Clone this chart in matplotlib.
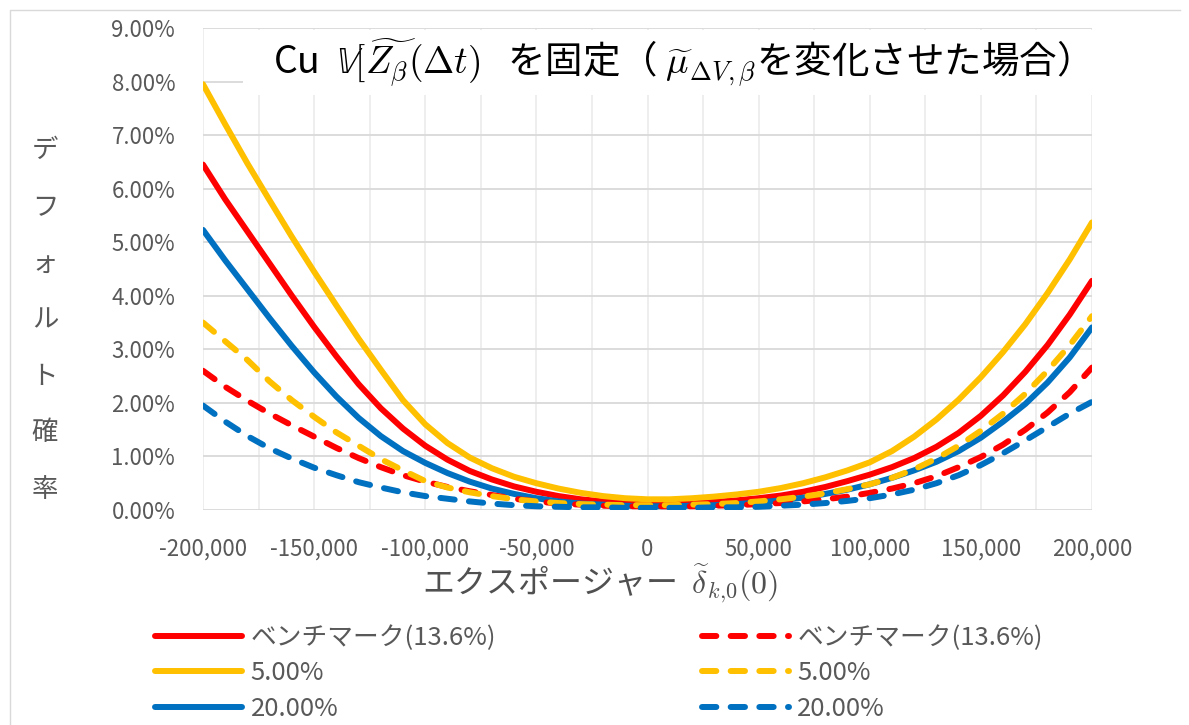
import matplotlib
matplotlib.use("Agg")
import matplotlib.pyplot as plt
from matplotlib.ticker import FuncFormatter, MultipleLocator
from matplotlib.patches import Rectangle
from matplotlib.lines import Line2D

plt.rcParams['font.family'] = ['Noto Sans CJK JP', 'DejaVu Sans']
plt.rcParams['mathtext.fontset'] = 'cm'

# exposure (x) and default probability in percent
exposure = list(range(-200000, 200001, 10000))

bench_solid = [6.45, 5.8, 5.2, 4.6, 4.0, 3.42, 2.87, 2.35, 1.9, 1.52, 1.2, 0.94, 0.73, 0.57,
               0.44, 0.34, 0.26, 0.2, 0.16, 0.14, 0.12,
               0.12, 0.13, 0.15, 0.18, 0.22, 0.27, 0.34, 0.43, 0.54, 0.66, 0.8, 0.97, 1.18,
               1.44, 1.76, 2.14, 2.58, 3.08, 3.65, 4.28]
p5_solid = [7.95, 7.2, 6.47, 5.78, 5.1, 4.45, 3.82, 3.2, 2.62, 2.05, 1.6, 1.25, 0.98, 0.78,
            0.62, 0.5, 0.4, 0.32, 0.26, 0.22, 0.2,
            0.2, 0.22, 0.25, 0.29, 0.34, 0.41, 0.5, 0.61, 0.74, 0.89, 1.1, 1.37, 1.69,
            2.06, 2.48, 2.95, 3.47, 4.05, 4.68, 5.37]
p20_solid = [5.23, 4.66, 4.12, 3.58, 3.06, 2.57, 2.12, 1.72, 1.38, 1.1, 0.88, 0.69, 0.53, 0.4,
             0.3, 0.22, 0.16, 0.12, 0.1, 0.08, 0.07,
             0.07, 0.08, 0.09, 0.11, 0.14, 0.18, 0.23, 0.3, 0.38, 0.48, 0.6, 0.74, 0.9,
             1.1, 1.35, 1.65, 1.98, 2.38, 2.85, 3.41]
bench_dash = [2.6, 2.3, 2.04, 1.8, 1.58, 1.37, 1.16, 0.97, 0.8, 0.65, 0.53, 0.43, 0.35, 0.28,
              0.21, 0.16, 0.12, 0.1, 0.08, 0.07, 0.07,
              0.07, 0.07, 0.08, 0.09, 0.11, 0.13, 0.16, 0.2, 0.25, 0.32, 0.4, 0.5, 0.63,
              0.8, 0.99, 1.22, 1.5, 1.82, 2.2, 2.66]
p5_dash = [3.5, 3.15, 2.8, 2.4, 2.05, 1.74, 1.45, 1.2, 0.95, 0.74, 0.54, 0.42, 0.33, 0.26,
           0.2, 0.16, 0.13, 0.11, 0.1, 0.09, 0.09,
           0.09, 0.1, 0.11, 0.13, 0.16, 0.2, 0.25, 0.31, 0.39, 0.48, 0.6, 0.76, 0.96, 1.2,
           1.48, 1.8, 2.17, 2.6, 3.08, 3.62]
p20_dash = [1.95, 1.65, 1.38, 1.15, 0.96, 0.79, 0.65, 0.52, 0.42, 0.33, 0.26, 0.21, 0.16, 0.12,
            0.09, 0.07, 0.06, 0.05, 0.05, 0.04, 0.04,
            0.04, 0.04, 0.05, 0.05, 0.06, 0.08, 0.1, 0.13, 0.17, 0.22, 0.29, 0.38, 0.5,
            0.65, 0.84, 1.06, 1.3, 1.55, 1.8, 2.02]

labels = ["ベンチマーク(13.6%)", "5.00%", "20.00%"]
colors = ["#FF0000", "#FFC000", "#0070C0"]

W, H = 1189, 725
fig = plt.figure(figsize=(W / 100, H / 100), dpi=100)
ax = fig.add_axes([203 / W, 1 - 510 / H, (1092 - 203) / W, (510 - 28) / H])

lw = 4.3
series = [(bench_solid, '-'), (p5_solid, '-'), (p20_solid, '-'),
          (bench_dash, '--'), (p5_dash, '--'), (p20_dash, '--')]
handles = []
for i, (vals, ls) in enumerate(series):
    c = colors[i % 3]
    if ls == '-':
        line, = ax.plot(exposure, vals, color=c, lw=lw, solid_capstyle='round',
                        solid_joinstyle='round', zorder=3)
    else:
        line, = ax.plot(exposure, vals, color=c, lw=lw, dashes=(2.4, 2.4),
                        dash_capstyle='round', zorder=3)
    handles.append(line)

ax.set_xlim(-200000, 200000)
ax.set_ylim(0, 9)
ax.xaxis.set_major_locator(MultipleLocator(50000))
ax.xaxis.set_minor_locator(MultipleLocator(25000))
ax.yaxis.set_major_locator(MultipleLocator(1))
ax.xaxis.set_major_formatter(FuncFormatter(lambda v, p: f"{int(v):,}"))
ax.yaxis.set_major_formatter(FuncFormatter(lambda v, p: f"{v:.2f}%"))

ax.set_axisbelow(True)
ax.grid(axis='y', color='#D9D9D9', lw=1.3)
ax.grid(axis='x', which='both', color='#EBEBEB', lw=1.2)
for s in ax.spines.values():
    s.set_visible(False)
ax.tick_params(axis='both', which='both', length=0, colors='#595959', labelsize=16)
ax.tick_params(axis='x', pad=20)
ax.tick_params(axis='y', pad=20)

# title box covering the top gridlines
ax.add_patch(Rectangle((243 / W, 1 - 95 / H), (1092 - 243) / W, (95 - 30) / H,
                       transform=fig.transFigure, facecolor='white', edgecolor='none',
                       zorder=1.5, clip_on=False))
fig.text(671 / W, 1 - 63 / H,
         r"Cu  $\mathbb{V}[\widetilde{Z_\beta}(\Delta t)$   を固定（ $\widetilde{\mu}_{\Delta V,\beta}$を変化させた場合）",
         ha='center', va='center', fontsize=27, color='black')

# stacked vertical y label
fig.text(45 / W, 1 - 320 / H, "\n".join("デフォルト確率"), ha='center', va='center',
         fontsize=19, color='#595959', linespacing=2.4)

fig.text(600 / W, 1 - 583 / H, r"エクスポージャー  $\widetilde{\delta}_{k{,}0}(0)$",
         ha='center', va='center', fontsize=23, color='#505050')

# chart border
fig.add_artist(Line2D([10 / W, 10 / W, 1180 / W], [0, 1 - 10 / H, 1 - 10 / H],
                      transform=fig.transFigure, color='#D9D9D9', lw=1))

leg_labels = labels + labels
fig.legend(handles, leg_labels, ncol=2, loc='upper left',
           bbox_to_anchor=(155 / W, 1 - 625 / H), frameon=False,
           fontsize=18.5, handlelength=3.4, handletextpad=0.32, columnspacing=8.0,
           labelspacing=0.36, labelcolor='#595959', borderaxespad=0, borderpad=0)

fig.savefig("out.png", dpi=100)
